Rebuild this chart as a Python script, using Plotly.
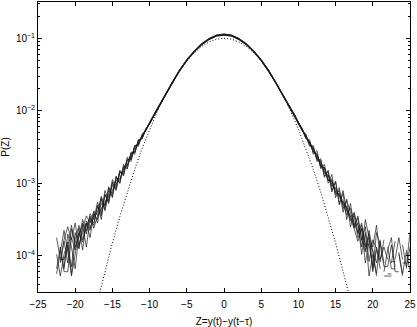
import numpy as np
import plotly.graph_objects as go

# bin centres of the histograms (fine in the tails, coarse in the core)
z_left = np.arange(-22.5, -9.99, 0.5)
z_core = np.arange(-9, 9.01, 1.0)
z_right = np.arange(9.5, 25.01, 0.5)
Z = np.concatenate([z_left, z_core, z_right])

N = None
# log10 P(Z) for each run
run1 = [-3.98, -4.28, -3.98, -3.81, -4.28, -3.98, -3.68, -3.81, -3.55, -3.75, -3.40, -3.55, -3.22,
        -3.38, -3.06, -3.20, -2.90, -3.00, -2.74, -2.80, -2.57, -2.58, -2.40, -2.38, -2.25, -2.18,
        -1.99, -1.81, -1.62, -1.45, -1.30, -1.18, -1.08, -1.01, -0.96, -0.945, -0.96, -1.01, -1.08,
        -1.18, -1.30, -1.45, -1.62, -1.80, -1.99,
        -2.08, -2.18, -2.27, -2.32, -2.48, -2.50, -2.68, -2.68, -2.90, -2.84, -3.10, -2.98, -3.28,
        -3.14, -3.50, -3.28, -3.60, -3.55, -3.98, -3.68, -4.28, -3.98, -4.28, N, -4.28, -4.28, -4.28,
        N, -3.98, -4.28, N, -3.81]
run2 = [-4.18, -3.88, -4.18, -3.70, -3.88, -4.18, -3.70, -3.58, -3.88, -3.50, -3.58, -3.30, -3.50,
        -3.15, -3.28, -2.98, -3.10, -2.84, -2.90, -2.66, -2.70, -2.48, -2.49, -2.32, -2.28, -2.16,
        -1.98, -1.79, -1.61, -1.44, -1.29, -1.17, -1.07, -1.00, -0.955, -0.94, -0.955, -1.00, -1.07,
        -1.17, -1.29, -1.44, -1.61, -1.79, -1.97,
        -2.05, -2.16, -2.24, -2.38, -2.40, -2.60, -2.55, -2.80, -2.74, -3.00, -2.88, -3.20, -3.06,
        -3.40, -3.22, -3.60, -3.40, -3.70, -3.58, -3.88, -3.70, -4.18, -3.88, -4.18, N, -3.88, -4.18,
        -4.18, N, N, -4.18, -3.88]
run3 = [N, -4.10, -3.80, -4.10, -3.63, -3.80, -3.90, -3.55, -3.70, -3.45, -3.62, -3.45, -3.35,
        -3.26, -3.18, -3.10, -2.96, -2.94, -2.80, -2.75, -2.60, -2.57, -2.41, -2.38, -2.25, -2.17,
        -1.98, -1.80, -1.63, -1.46, -1.31, -1.19, -1.09, -1.02, -0.97, -0.955, -0.97, -1.02, -1.09,
        -1.19, -1.31, -1.46, -1.63, -1.81, -1.99,
        -2.07, -2.17, -2.28, -2.34, -2.49, -2.48, -2.70, -2.66, -2.92, -2.82, -3.12, -2.97, -3.30,
        -3.10, -3.38, -3.48, -3.63, -3.80, -3.63, -4.10, -3.80, -3.93, -4.10, -3.80, -4.10, N, -4.10,
        -3.80, N, -4.10, -4.10, N]
run4 = [N, -3.92, -4.22, -4.22, -3.75, -3.92, -3.62, -3.92, -3.52, -3.62, -3.45, -3.40, -3.20,
        -3.36, -3.15, -3.04, -3.02, -2.86, -2.84, -2.68, -2.66, -2.50, -2.46, -2.34, -2.26, -2.18,
        -1.99, -1.80, -1.62, -1.45, -1.30, -1.18, -1.08, -1.01, -0.965, -0.95, -0.965, -1.01, -1.08,
        -1.18, -1.30, -1.45, -1.62, -1.80, -1.98,
        -2.06, -2.19, -2.25, -2.36, -2.45, -2.52, -2.65, -2.72, -2.86, -2.88, -3.02, -3.08, -3.20,
        -3.26, -3.34, -3.52, -3.45, -3.75, -3.62, -3.92, -3.75, -4.22, -3.92, N, -4.22, -3.92, -3.75,
        -4.22, -4.22, N, -3.92, -4.22]
run5 = [-3.75, -4.05, -4.05, -3.88, -3.58, -3.88, -3.75, -3.50, -3.66, -3.42, -3.50, -3.26, -3.42,
        -3.10, -3.24, -2.95, -3.06, -2.82, -2.88, -2.64, -2.68, -2.48, -2.47, -2.33, -2.27, -2.16,
        -1.97, -1.79, -1.61, -1.44, -1.30, -1.18, -1.08, -1.005, -0.96, -0.95, -0.96, -1.005, -1.08,
        -1.18, -1.30, -1.44, -1.61, -1.79, -1.97,
        -2.08, -2.16, -2.27, -2.33, -2.46, -2.52, -2.66, -2.70, -2.84, -2.90, -3.04, -3.06, -3.18,
        -3.24, -3.38, -3.46, -3.42, -3.58, -3.88, -3.50, -3.75, -3.88, -3.58, -4.05, -3.88, -4.05, N,
        -4.05, -3.75, -4.05, N, -3.75]
run6 = [N, N, -4.15, -3.85, -4.15, -3.68, -3.85, -3.68, -3.55, -3.65, -3.42, -3.50, -3.28,
        -3.30, -3.10, -3.14, -2.92, -2.96, -2.78, -2.76, -2.60, -2.56, -2.42, -2.36, -2.27, -2.17,
        -1.98, -1.81, -1.62, -1.46, -1.31, -1.18, -1.09, -1.01, -0.965, -0.95, -0.965, -1.01, -1.09,
        -1.18, -1.31, -1.46, -1.62, -1.81, -1.98,
        -2.08, -2.17, -2.26, -2.37, -2.44, -2.56, -2.62, -2.76, -2.80, -2.96, -2.98, -3.12, -3.16,
        -3.28, -3.44, -3.34, -3.55, -3.68, -3.55, -3.85, -3.85, -4.15, -3.68, -3.85, -4.15, -4.15,
        -3.85, -4.15, N, -3.85, -4.15, -3.68]
run7 = [-4.25, -3.95, -3.65, -3.95, -4.25, -3.78, -3.58, -3.78, -3.58, -3.48, -3.55, -3.32, -3.45,
        -3.16, -3.26, -3.00, -3.08, -2.84, -2.88, -2.68, -2.66, -2.50, -2.46, -2.35, -2.26, -2.18,
        -1.98, -1.80, -1.62, -1.45, -1.30, -1.18, -1.08, -1.01, -0.96, -0.95, -0.96, -1.01, -1.08,
        -1.18, -1.30, -1.45, -1.62, -1.80, -1.98,
        -2.07, -2.18, -2.25, -2.38, -2.42, -2.58, -2.60, -2.78, -2.78, -2.96, -2.96, -3.14, -3.14,
        -3.30, -3.32, -3.46, -3.58, -3.48, -3.78, -3.95, -3.65, -3.95, -4.25, -3.78, N, -4.25, -4.25,
        N, -3.95, -4.25, -3.95, N]
run8 = [N, -4.08, -3.78, -3.60, -3.78, -3.55, -3.90, -3.62, -3.45, -3.55, -3.38, -3.44, -3.18,
        -3.32, -3.05, -3.18, -2.92, -3.00, -2.76, -2.80, -2.58, -2.60, -2.40, -2.39, -2.25, -2.18,
        -1.99, -1.80, -1.63, -1.45, -1.31, -1.19, -1.09, -1.02, -0.97, -0.96, -0.97, -1.02, -1.09,
        -1.19, -1.31, -1.45, -1.63, -1.80, -1.99,
        -2.06, -2.18, -2.25, -2.38, -2.42, -2.56, -2.59, -2.77, -2.78, -2.96, -2.94, -3.16, -3.10,
        -3.35, -3.24, -3.40, -3.62, -3.45, -3.78, -3.60, -4.08, -3.78, -3.90, -4.08, -3.78, N, -4.08,
        -4.08, N, -3.78, N, N]
runs = [run1, run2, run3, run4, run5, run6, run7, run8]

# gaussian reference (dotted), log10 P
z_gauss = [-17, -16, -15, -14, -13, -12, -11, -10, -9, -8, -7, -6, -5, -4, -3, -2, -1, 0,
           1, 2, 3, 4, 5, 6, 7, 8, 9, 10, 11, 12, 13, 14, 15, 16, 17]
logp_gauss = [-4.627, -4.213, -3.824, -3.460, -3.121, -2.807, -2.519, -2.255, -2.017, -1.803,
              -1.615, -1.452, -1.314, -1.201, -1.113, -1.050, -1.013, -1.000,
              -1.013, -1.050, -1.113, -1.201, -1.314, -1.452, -1.615, -1.803, -2.017, -2.255,
              -2.519, -2.807, -3.121, -3.460, -3.824, -4.213, -4.627]


def topow(vals):
    return [None if v is None else 10 ** v for v in vals]


fig = go.Figure()
for r in runs:
    fig.add_trace(go.Scatter(x=Z, y=topow(r), mode='lines',
                             line=dict(color='#1a1a1a', width=0.7),
                             connectgaps=False, showlegend=False))
fig.add_trace(go.Scatter(x=z_gauss, y=topow(logp_gauss), mode='lines',
                         line=dict(color='black', width=1, dash='1px,2px'),
                         showlegend=False))

minor_vals = [k * 10.0 ** e for e in range(-5, 0) for k in range(2, 10)]

fig.update_layout(
    width=417, height=327,
    margin=dict(l=38, r=4, t=1, b=32),
    plot_bgcolor='white', paper_bgcolor='white',
    font=dict(family='Liberation Sans, Arial, sans-serif', size=10, color='black'),
)
fig.update_xaxes(
    range=[-25, 25], tickmode='array', tickvals=list(range(-25, 26, 5)),
    showgrid=False, zeroline=False, showline=True, linecolor='black', linewidth=1,
    mirror='ticks', ticks='inside', ticklen=4, tickcolor='black',
    ticklabeloverflow='allow', ticklabelstandoff=3,
    title=dict(text='Z=y(t)\u2212y(t\u2212\u03c4)', standoff=9, font=dict(size=10)),
)
fig.update_yaxes(
    type='log', range=[-4.5, -0.5],
    tickmode='array', tickvals=[1e-4, 1e-3, 1e-2, 1e-1],
    ticktext=['10<sup>\u22124</sup>', '10<sup>\u22123</sup>', '10<sup>\u22122</sup>', '10<sup>\u22121</sup>'],
    showgrid=False, zeroline=False, showline=True, linecolor='black', linewidth=1,
    mirror='ticks', ticks='inside', ticklen=4, tickcolor='black',
    minor=dict(tickmode='array', tickvals=minor_vals, ticks='inside', ticklen=2,
               tickcolor='black', showgrid=False),
    title=dict(text='P(Z)', standoff=4, font=dict(size=10)),
)

fig.write_html("out.html", config={'displayModeBar': False},
               post_script="document.body.style.margin='0';")
